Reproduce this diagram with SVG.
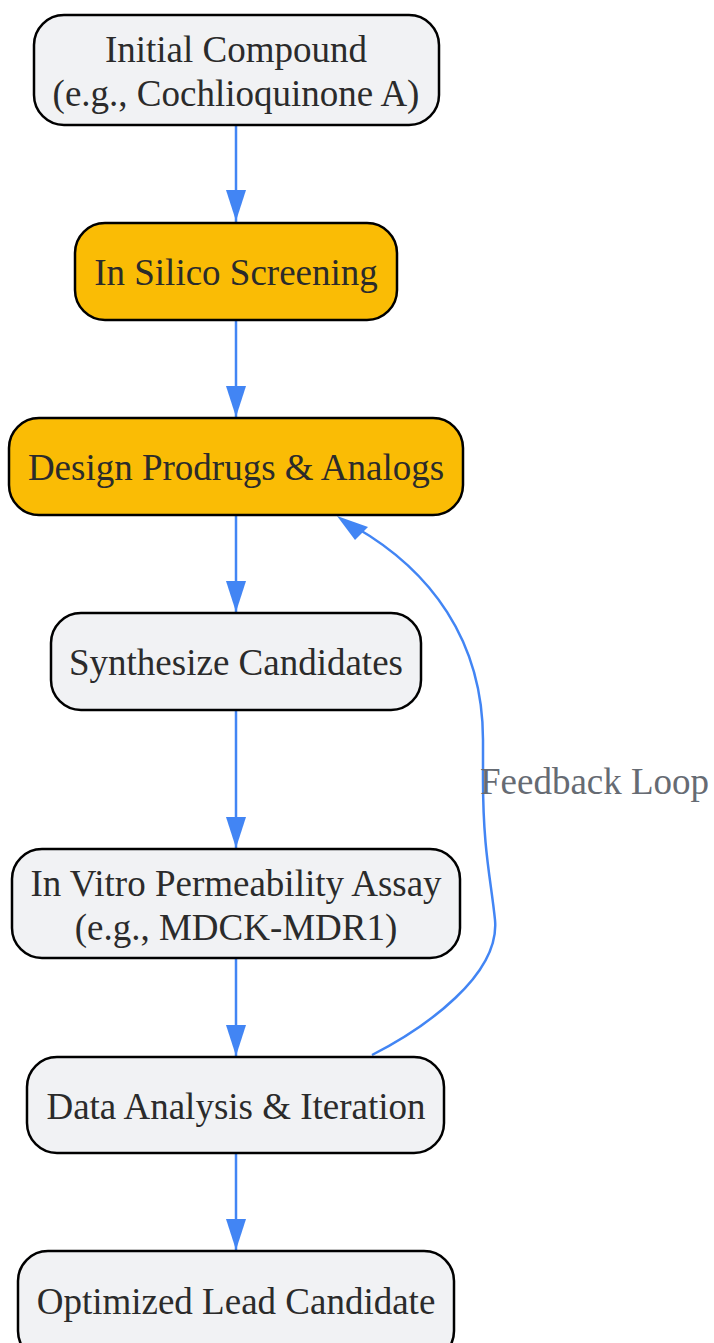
<svg xmlns="http://www.w3.org/2000/svg" width="714" height="1343" viewBox="0 0 714 1343">
<style>
.n{fill:#f1f2f4;stroke:#000;stroke-width:2.5}
.o{fill:#fabc05;stroke:#000;stroke-width:2.5}
.t{font-family:"Liberation Serif",serif;font-size:37px;fill:#2b2b2b;text-anchor:middle}
.e{fill:none;stroke:#4285f4;stroke-width:2.5}
.l{font-family:"Liberation Serif",serif;font-size:37px;fill:#666b73}
</style>
<g id="edges">
<path class="e" d="M236,125 V222"/>
<path d="M226,190 L246,190 L236,221 Z" fill="#4285f4"/>
<path class="e" d="M236,320 V417"/>
<path d="M226,386 L246,386 L236,417 Z" fill="#4285f4"/>
<path class="e" d="M236,515 V612"/>
<path d="M226,581 L246,581 L236,612 Z" fill="#4285f4"/>
<path class="e" d="M236,710 V848"/>
<path d="M226,817 L246,817 L236,848 Z" fill="#4285f4"/>
<path class="e" d="M236,958 V1056"/>
<path d="M226,1025 L246,1025 L236,1056 Z" fill="#4285f4"/>
<path class="e" d="M236,1153 V1250"/>
<path d="M226,1219 L246,1219 L236,1250 Z" fill="#4285f4"/>
<path class="e" d="M372,1055 C425,1028 500,975 495,920 C491,880 483,850 483,780 L483,740 C483,640 430,570 355,527"/>
<path d="M337,516 L368,527 L355,540 Z" fill="#4285f4"/>
<text class="l" x="480" y="794">Feedback Loop</text>
</g>
<g id="n1"><rect class="n" x="34" y="15" width="405" height="110" rx="30"/><text class="t" x="236" y="62">Initial Compound</text><text class="t" x="236" y="106">(e.g., Cochlioquinone A)</text></g>
<g id="n2"><rect class="o" x="75" y="223" width="322" height="97" rx="30"/><text class="t" x="236" y="285">In Silico Screening</text></g>
<g id="n3"><rect class="o" x="9" y="418" width="454" height="97" rx="30"/><text class="t" x="236" y="480">Design Prodrugs &amp; Analogs</text></g>
<g id="n4"><rect class="n" x="51" y="613" width="370" height="97" rx="30"/><text class="t" x="236" y="675">Synthesize Candidates</text></g>
<g id="n5"><rect class="n" x="12" y="849" width="448" height="109" rx="30"/><text class="t" x="236" y="896">In Vitro Permeability Assay</text><text class="t" x="236" y="940">(e.g., MDCK-MDR1)</text></g>
<g id="n6"><rect class="n" x="27" y="1057" width="417" height="96" rx="30"/><text class="t" x="236" y="1119">Data Analysis &amp; Iteration</text></g>
<g id="n7"><rect class="n" x="18" y="1251" width="436" height="110" rx="30"/><text class="t" x="236" y="1314">Optimized Lead Candidate</text></g>
</svg>
